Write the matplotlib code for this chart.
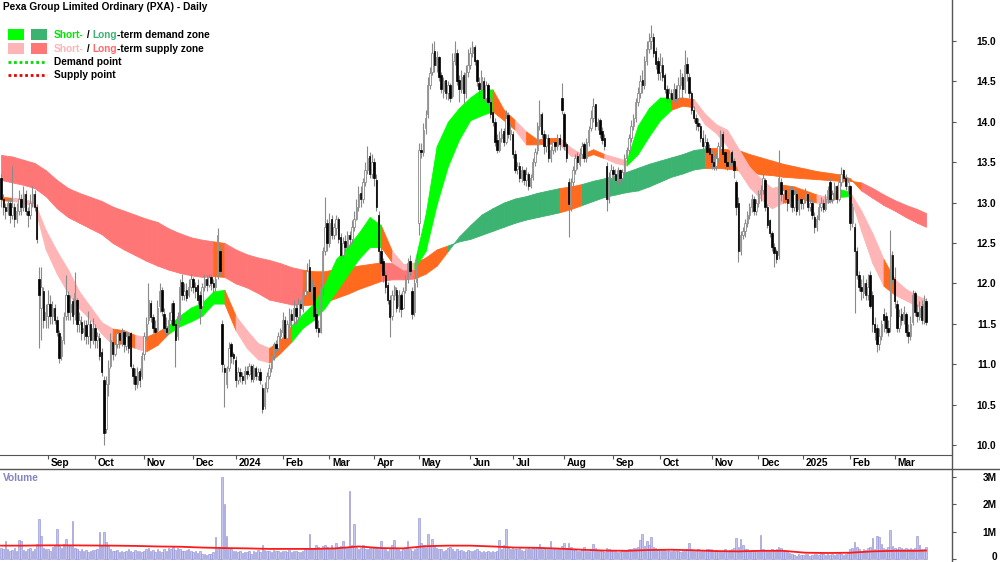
import numpy as np
import pandas as pd
import matplotlib
matplotlib.use('Agg')
import matplotlib.pyplot as plt
from matplotlib.lines import Line2D
from matplotlib.patches import Rectangle

plt.rcParams['font.family'] = ['Liberation Sans Narrow', 'Liberation Sans', 'DejaVu Sans']
plt.rcParams['font.weight'] = 'bold'
FS = 7.3

# ---- daily prices, one row per month (Aug 2023 .. Mar 2025) ----
opens = [
    13.30, 13.05, 12.95, 12.90, 13.00, 12.85, 12.95, 12.80, 12.90, 13.05, 12.95, 13.10, 12.90, 12.85, 13.00, 13.10, 12.95, 12.05, 11.70, 11.90, 11.55,
    11.60, 11.75, 11.60, 11.70, 11.55, 11.38, 11.10, 11.30, 11.60, 11.85, 11.65, 11.78, 11.62, 11.80, 11.50, 11.52, 11.40, 11.48, 11.35, 11.50, 11.30,
    11.45, 11.30, 11.32, 11.15, 10.80, 10.20, 10.75, 10.98, 11.28, 11.12, 11.25, 11.38, 11.28, 11.40, 11.22, 11.35, 11.38, 10.95, 10.85, 10.75, 10.92, 10.85,
    11.12, 11.35, 11.55, 11.76, 11.58, 11.45, 11.42, 11.72, 11.92, 11.62, 11.45, 11.40, 11.55, 11.76, 11.50, 11.35, 11.60, 12.02, 11.85, 11.92, 11.85, 11.95,
    12.05, 11.95, 11.98, 11.85, 11.72, 11.95, 12.05, 11.98, 12.08, 12.00, 11.95, 12.10, 12.40, 11.50, 10.95, 10.75, 10.95, 11.25, 11.12,
    11.05, 10.80, 10.90, 10.85, 10.80, 10.92, 10.88, 10.98, 10.82, 10.95, 10.85, 10.90, 10.70, 10.48, 10.70, 10.85, 10.95, 11.10, 11.25, 11.20, 11.35,
    11.40, 11.55, 11.32, 11.48, 11.62, 11.55, 11.70, 11.58, 11.75, 11.68, 11.85, 11.90, 12.20, 11.88, 11.95, 11.62, 11.45, 11.40, 11.95, 12.40, 12.75,
    12.50, 12.80, 12.60, 12.68, 12.80, 12.58, 12.35, 12.52, 12.45, 12.60, 12.55, 12.70, 12.80, 12.95, 13.12, 13.05, 13.25, 13.40, 13.58, 13.35,
    13.50, 13.28, 12.85, 12.40, 12.28, 12.10, 11.98, 11.80, 11.60, 11.85, 11.92, 11.72, 11.85, 11.70, 11.92, 12.05, 12.28, 11.90, 11.65, 12.02,
    12.75, 13.65, 13.62, 13.92, 14.10, 14.45, 14.62, 14.88, 14.70, 14.80, 14.58, 14.38, 14.52, 14.35, 14.45, 14.32, 14.75, 14.85, 14.52, 14.40, 14.58, 14.35, 14.62,
    14.70, 14.85, 14.92, 14.76, 14.48, 14.40, 14.50, 14.30, 14.45, 14.25, 14.12, 14.00, 13.78, 13.65, 13.80, 13.88, 13.75, 14.08, 13.85,
    13.85, 13.60, 13.42, 13.45, 13.30, 13.40, 13.28, 13.35, 13.20, 13.32, 13.50, 13.65, 13.95, 14.10, 13.85, 13.70, 13.80, 13.55, 13.65, 13.75, 13.70, 13.80, 14.30,
    14.10, 13.72, 13.25, 12.95, 13.25, 13.40, 13.58, 13.48, 13.60, 13.72, 13.55, 13.75, 13.92, 14.05, 14.22, 13.95, 14.02, 13.88, 13.80, 13.45, 13.05, 13.30,
    13.40, 13.35, 13.28, 13.40, 13.30, 13.38, 13.55, 13.65, 13.80, 13.95, 14.05, 14.25, 14.35, 14.52, 14.45, 14.75, 14.90, 15.00, 15.05, 14.88, 14.75,
    14.62, 14.70, 14.58, 14.40, 14.30, 14.35, 14.28, 14.40, 14.30, 14.45, 14.55, 14.40, 14.72, 14.55, 14.35, 14.15, 14.05, 13.98, 13.95, 13.80, 13.70, 13.75, 13.68,
    13.60, 13.50, 13.45, 13.55, 13.70, 13.85, 13.62, 13.50, 13.45, 13.62, 13.52, 13.25, 13.00, 12.40, 12.60, 12.65, 12.75, 12.85, 12.95, 13.05, 12.90,
    13.00, 13.10, 13.15, 13.28, 12.95, 12.78, 12.62, 12.45, 12.40, 12.35, 13.25, 13.10, 13.15, 13.05, 13.00, 13.15, 12.95, 13.10, 12.92, 13.05,
    13.00, 13.05, 13.10, 12.95, 13.00, 12.82, 12.70, 12.80, 12.95, 13.00, 12.92, 13.05, 13.25, 13.05, 13.10, 13.20, 13.05, 13.25, 13.40, 13.30, 13.20,
    13.20, 12.75, 12.70, 12.40, 12.10, 11.95, 11.88, 12.00, 11.85, 12.10, 11.85, 11.50, 11.45, 11.25, 11.35, 11.62, 11.60, 11.45, 11.60, 12.35,
    12.05, 11.75, 11.45, 11.62, 11.55, 11.62, 11.40, 11.35, 11.52, 11.88, 11.65, 11.58, 11.72, 11.55, 11.78,
]
highs = [
    13.35, 13.10, 13.00, 13.05, 13.05, 13.45, 13.00, 13.00, 13.15, 13.10, 13.20, 13.15, 12.95, 13.10, 13.20, 13.15, 12.98, 12.20, 12.20, 11.95, 11.75,
    11.92, 11.85, 11.78, 11.75, 11.60, 11.42, 11.35, 11.65, 12.10, 11.90, 11.85, 11.82, 12.14, 11.82, 11.65, 11.60, 11.55, 11.55, 11.66, 11.55, 11.57,
    11.50, 11.40, 11.38, 11.20, 10.85, 10.85, 11.05, 11.39, 11.35, 11.30, 11.43, 11.42, 11.45, 11.42, 11.40, 11.40, 11.40, 11.00, 10.95, 10.97, 10.95, 11.15,
    11.40, 11.58, 12.00, 11.80, 11.62, 11.55, 11.80, 12.00, 11.95, 11.70, 11.58, 11.65, 11.76, 11.80, 11.55, 11.65, 12.05, 12.12, 12.00, 12.00, 12.05, 12.12,
    12.08, 12.02, 12.05, 11.90, 12.00, 12.12, 12.10, 12.12, 12.12, 12.05, 12.10, 12.68, 12.45, 11.55, 11.00, 10.98, 11.28, 11.28, 11.15,
    11.10, 10.97, 10.95, 10.90, 10.98, 10.98, 11.02, 11.00, 11.00, 10.98, 10.95, 10.95, 10.75, 10.78, 10.90, 11.00, 11.15, 11.28, 11.30, 11.40, 11.45,
    11.65, 11.60, 11.55, 11.70, 11.68, 11.80, 11.75, 11.82, 11.80, 11.95, 12.00, 12.25, 12.30, 12.05, 11.98, 11.70, 11.55, 12.00, 12.45, 13.07, 12.80,
    12.87, 12.85, 12.75, 12.85, 12.82, 12.62, 12.58, 12.60, 12.65, 12.65, 12.78, 12.90, 13.05, 13.20, 13.20, 13.30, 13.50, 13.70, 13.62, 13.60,
    13.55, 13.35, 12.90, 12.45, 12.32, 12.15, 12.02, 11.85, 11.92, 11.98, 11.95, 11.92, 11.88, 11.95, 12.10, 12.32, 12.35, 11.95, 12.05, 12.38,
    13.74, 13.74, 13.98, 14.15, 14.55, 14.68, 14.97, 15.00, 14.88, 14.82, 14.62, 14.55, 14.52, 14.50, 14.48, 14.85, 15.00, 14.90, 14.58, 14.64, 14.62, 14.70, 14.90,
    14.92, 15.00, 14.95, 14.78, 14.55, 14.64, 14.55, 14.50, 14.48, 14.30, 14.18, 14.05, 13.85, 13.88, 13.92, 13.92, 14.15, 14.12, 13.98,
    13.88, 13.65, 13.50, 13.50, 13.45, 13.42, 13.44, 13.38, 13.35, 13.55, 13.68, 14.00, 14.27, 14.12, 13.90, 13.85, 13.85, 13.70, 13.80, 13.80, 13.85, 13.85, 14.48,
    14.12, 13.75, 13.30, 13.30, 13.45, 13.60, 13.62, 13.68, 13.75, 13.75, 13.80, 13.95, 14.15, 14.30, 14.22, 14.05, 14.05, 13.93, 13.85, 13.50, 13.38, 13.48,
    13.45, 13.42, 13.44, 13.42, 13.42, 13.60, 13.69, 13.85, 14.02, 14.10, 14.30, 14.43, 14.58, 14.64, 14.82, 15.00, 15.10, 15.20, 15.10, 14.92, 14.80,
    14.85, 14.80, 14.60, 14.45, 14.42, 14.40, 14.48, 14.45, 14.55, 14.65, 14.60, 14.89, 14.80, 14.60, 14.38, 14.20, 14.10, 14.05, 13.98, 13.90, 13.85, 13.80, 13.72,
    13.65, 13.58, 13.62, 13.75, 13.90, 13.88, 13.66, 13.58, 13.65, 13.65, 13.55, 13.28, 13.07, 12.65, 12.70, 12.80, 12.90, 13.00, 13.10, 13.08, 13.05,
    13.15, 13.22, 13.37, 13.30, 12.98, 12.80, 12.65, 12.50, 12.42, 13.65, 13.30, 13.20, 13.20, 13.10, 13.20, 13.20, 13.15, 13.15, 13.10, 13.12,
    13.10, 13.18, 13.12, 13.05, 13.03, 12.88, 12.85, 13.00, 13.07, 13.05, 13.10, 13.20, 13.30, 13.15, 13.25, 13.22, 13.30, 13.44, 13.42, 13.35, 13.30,
    13.22, 13.00, 12.75, 12.45, 12.15, 12.05, 12.10, 12.05, 12.12, 12.15, 11.90, 11.58, 11.50, 11.45, 11.55, 11.70, 11.65, 11.55, 12.66, 12.40,
    12.20, 11.80, 11.68, 11.70, 11.72, 11.65, 11.50, 11.60, 11.92, 11.90, 11.75, 11.78, 11.80, 11.85, 11.82,
]
lows = [
    12.95, 12.85, 12.80, 12.85, 12.75, 12.80, 12.70, 12.75, 12.85, 12.85, 12.90, 12.85, 12.70, 12.80, 12.95, 12.90, 12.50, 11.20, 11.30, 11.45, 11.45,
    11.45, 11.50, 11.50, 11.50, 11.35, 11.02, 11.05, 11.25, 11.55, 11.55, 11.55, 11.50, 11.55, 11.40, 11.40, 11.30, 11.30, 11.25, 11.25, 11.20, 11.25,
    11.20, 11.20, 11.05, 10.85, 10.00, 10.15, 10.60, 10.95, 11.05, 11.10, 11.20, 11.20, 11.22, 11.15, 11.18, 11.14, 10.95, 10.75, 10.68, 10.70, 10.72, 10.82,
    11.05, 11.30, 11.50, 11.52, 11.38, 11.34, 11.38, 11.65, 11.60, 11.40, 11.35, 11.38, 11.50, 11.45, 10.97, 11.30, 11.55, 11.80, 11.80, 11.78, 11.83, 11.90,
    11.88, 11.82, 11.75, 11.50, 11.70, 11.90, 11.90, 11.95, 11.92, 11.88, 11.90, 12.05, 12.10, 10.90, 10.47, 10.70, 10.92, 11.02, 11.00,
    10.72, 10.75, 10.78, 10.75, 10.75, 10.82, 10.85, 10.78, 10.78, 10.80, 10.80, 10.75, 10.40, 10.45, 10.65, 10.82, 10.90, 11.05, 11.15, 11.18, 11.30,
    11.35, 11.25, 11.28, 11.45, 11.45, 11.50, 11.50, 11.55, 11.60, 11.65, 11.80, 11.85, 11.82, 11.80, 11.55, 11.40, 11.34, 11.38, 11.85, 12.35, 12.40,
    12.45, 12.55, 12.55, 12.60, 12.50, 12.30, 12.32, 12.40, 12.42, 12.48, 12.50, 12.65, 12.78, 12.90, 12.95, 13.00, 13.20, 13.35, 13.30, 13.30,
    13.20, 12.90, 12.18, 12.15, 12.02, 11.88, 11.75, 11.34, 11.55, 11.80, 11.65, 11.65, 11.58, 11.68, 11.88, 12.00, 12.10, 11.56, 11.60, 11.95,
    12.60, 13.55, 13.58, 13.85, 14.05, 14.40, 14.58, 14.62, 14.62, 14.50, 14.35, 14.30, 14.28, 14.27, 14.25, 14.30, 14.70, 14.45, 14.25, 14.35, 14.23, 14.30, 14.55,
    14.65, 14.80, 14.70, 14.44, 14.30, 14.38, 14.27, 14.25, 14.22, 14.05, 13.95, 13.70, 13.61, 13.62, 13.75, 13.70, 13.72, 13.80, 13.78,
    13.55, 13.37, 13.35, 13.25, 13.25, 13.22, 13.20, 13.15, 13.18, 13.28, 13.45, 13.60, 13.90, 13.80, 13.60, 13.62, 13.50, 13.50, 13.60, 13.62, 13.65, 13.65, 14.10,
    13.65, 13.50, 12.57, 12.90, 13.20, 13.35, 13.42, 13.45, 13.55, 13.50, 13.50, 13.70, 13.88, 14.00, 13.90, 13.90, 13.80, 13.72, 13.65, 12.90, 13.00, 13.28,
    13.22, 13.20, 13.22, 13.25, 13.28, 13.35, 13.50, 13.60, 13.75, 13.90, 14.00, 14.20, 14.30, 14.35, 14.40, 14.70, 14.85, 14.90, 14.80, 14.65, 14.52,
    14.52, 14.50, 14.35, 14.25, 14.25, 14.22, 14.25, 14.25, 14.28, 14.40, 14.30, 14.35, 14.50, 14.30, 14.10, 14.00, 13.90, 13.88, 13.75, 13.65, 13.62, 13.55, 13.55,
    13.42, 13.40, 13.40, 13.50, 13.65, 13.55, 13.42, 13.40, 13.42, 13.45, 13.30, 12.85, 12.27, 12.35, 12.55, 12.58, 12.70, 12.80, 12.88, 12.85, 12.85,
    12.95, 13.02, 13.10, 12.90, 12.68, 12.58, 12.40, 12.20, 12.25, 12.30, 13.02, 13.00, 13.00, 12.90, 12.95, 12.88, 12.90, 12.85, 12.85, 12.92,
    12.92, 13.00, 12.90, 12.90, 12.80, 12.62, 12.65, 12.78, 12.90, 12.88, 12.90, 13.00, 13.00, 13.00, 13.05, 13.00, 13.02, 13.20, 13.25, 13.15, 13.10,
    12.66, 12.70, 11.63, 12.05, 11.90, 11.80, 11.82, 11.80, 11.80, 11.70, 11.40, 11.30, 11.15, 11.18, 11.30, 11.40, 11.38, 11.35, 11.40, 12.00,
    11.70, 11.40, 11.40, 11.48, 11.50, 11.35, 11.26, 11.30, 11.48, 11.60, 11.52, 11.55, 11.50, 11.50, 11.48,
]
closes = [
    13.05, 12.95, 12.90, 13.00, 12.85, 12.95, 12.80, 12.90, 13.05, 12.95, 13.10, 12.90, 12.85, 13.00, 13.10, 12.95, 12.55, 11.85, 11.95, 11.55, 11.65,
    11.75, 11.60, 11.70, 11.55, 11.40, 11.08, 11.30, 11.58, 11.85, 11.65, 11.75, 11.60, 11.88, 11.50, 11.55, 11.38, 11.45, 11.35, 11.50, 11.30, 11.45,
    11.30, 11.35, 11.10, 10.90, 10.15, 10.75, 10.95, 11.30, 11.12, 11.25, 11.38, 11.30, 11.40, 11.25, 11.35, 11.20, 10.98, 10.85, 10.75, 10.90, 10.80, 11.10,
    11.35, 11.50, 11.80, 11.58, 11.45, 11.40, 11.70, 11.90, 11.66, 11.45, 11.40, 11.55, 11.65, 11.48, 11.30, 11.60, 11.95, 11.85, 11.90, 11.82, 11.95, 12.05,
    11.95, 11.90, 11.80, 11.70, 11.95, 12.05, 11.98, 12.08, 12.00, 11.95, 12.05, 12.60, 12.15, 11.00, 10.90, 10.95, 11.20, 11.10, 11.08,
    10.80, 10.90, 10.85, 10.80, 10.92, 10.88, 10.98, 10.82, 10.95, 10.85, 10.90, 10.80, 10.45, 10.70, 10.85, 10.95, 11.10, 11.25, 11.20, 11.35, 11.42,
    11.55, 11.32, 11.50, 11.62, 11.55, 11.70, 11.60, 11.75, 11.70, 11.85, 11.90, 12.15, 11.90, 11.95, 11.60, 11.45, 11.40, 11.95, 12.40, 12.70, 12.50,
    12.75, 12.60, 12.70, 12.80, 12.55, 12.35, 12.50, 12.45, 12.60, 12.55, 12.70, 12.80, 12.95, 13.10, 13.05, 13.25, 13.40, 13.55, 13.35, 13.50,
    13.30, 12.95, 12.40, 12.25, 12.10, 11.95, 11.80, 11.58, 11.85, 11.95, 11.70, 11.85, 11.68, 11.90, 12.05, 12.25, 12.15, 11.62, 12.00, 12.30,
    13.65, 13.62, 13.90, 14.05, 14.45, 14.60, 14.85, 14.70, 14.80, 14.55, 14.40, 14.50, 14.35, 14.45, 14.30, 14.75, 14.85, 14.50, 14.40, 14.55, 14.35, 14.60, 14.70,
    14.85, 14.92, 14.75, 14.50, 14.40, 14.55, 14.30, 14.45, 14.25, 14.10, 14.00, 13.75, 13.65, 13.80, 13.85, 13.75, 14.05, 13.85, 13.90,
    13.60, 13.40, 13.45, 13.30, 13.40, 13.28, 13.35, 13.20, 13.30, 13.50, 13.62, 13.95, 14.10, 13.85, 13.70, 13.80, 13.55, 13.65, 13.75, 13.70, 13.80, 13.72, 14.15,
    13.70, 13.55, 12.98, 13.25, 13.40, 13.55, 13.50, 13.60, 13.70, 13.55, 13.75, 13.90, 14.05, 14.20, 13.95, 14.00, 13.85, 13.78, 13.70, 13.05, 13.30, 13.40,
    13.35, 13.28, 13.40, 13.30, 13.38, 13.55, 13.65, 13.80, 13.95, 14.05, 14.25, 14.35, 14.50, 14.45, 14.75, 14.90, 15.00, 15.05, 14.85, 14.72, 14.60,
    14.70, 14.55, 14.40, 14.30, 14.35, 14.28, 14.40, 14.30, 14.45, 14.55, 14.40, 14.70, 14.60, 14.35, 14.15, 14.05, 13.98, 13.95, 13.80, 13.70, 13.75, 13.62, 13.60,
    13.50, 13.45, 13.55, 13.70, 13.85, 13.60, 13.50, 13.45, 13.60, 13.50, 13.40, 12.95, 12.40, 12.60, 12.65, 12.75, 12.85, 12.95, 13.05, 12.90, 13.00,
    13.10, 13.15, 13.30, 12.95, 12.72, 12.62, 12.45, 12.38, 12.30, 13.30, 13.10, 13.15, 13.05, 13.00, 13.15, 12.95, 13.10, 12.90, 13.05, 13.00,
    13.05, 13.10, 12.95, 13.00, 12.85, 12.70, 12.80, 12.95, 13.00, 12.92, 13.05, 13.15, 13.05, 13.10, 13.20, 13.05, 13.25, 13.35, 13.30, 13.20, 13.25,
    12.75, 12.95, 12.40, 12.10, 11.95, 11.90, 12.00, 11.85, 11.95, 11.72, 11.50, 11.40, 11.25, 11.35, 11.50, 11.55, 11.45, 11.40, 12.35, 12.05,
    11.78, 11.45, 11.60, 11.55, 11.65, 11.40, 11.35, 11.50, 11.85, 11.65, 11.60, 11.70, 11.55, 11.75, 11.52,
]
# volume in thousands of shares
volumes = [
    420, 350, 650, 380, 300, 340, 420, 310, 700, 650, 330, 290, 360, 420, 300, 380, 560, 1480, 850, 420, 360,
    380, 300, 450, 520, 1100, 480, 420, 560, 750, 500, 460, 1400, 420, 380, 300, 350, 280, 320, 260, 300, 340,
    320, 380, 1000, 500, 1000, 620, 480, 350, 300, 280, 320, 260, 300, 240, 280, 350, 300, 260, 320, 280, 300, 260,
    300, 350, 420, 280, 320, 260, 380, 300, 250, 350, 300, 420, 380, 450, 330, 400, 360, 300, 280, 320, 350, 300,
    250, 280, 220, 300, 180, 200, 160, 180, 200, 260, 800, 380, 420, 3000, 2000, 850, 420, 350, 300,
    300, 250, 280, 220, 260, 240, 300, 200, 280, 250, 320, 260, 500, 340, 280, 300, 260, 320, 280, 300, 260,
    300, 280, 260, 320, 250, 280, 300, 260, 240, 300, 350, 380, 900, 420, 360, 500, 450, 400, 480, 520, 450,
    420, 500, 380, 600, 450, 480, 650, 400, 420, 2500, 500, 1300, 450, 380, 420, 500, 350, 380, 400, 450,
    400, 450, 380, 650, 420, 380, 300, 350, 500, 700, 420, 380, 300, 350, 420, 650, 380, 300, 350, 400,
    1500, 600, 500, 450, 900, 480, 750, 520, 420, 380, 350, 300, 320, 400, 450, 380, 300, 350, 280, 320, 300, 260, 320,
    300, 280, 320, 350, 300, 260, 280, 250, 300, 260, 280, 240, 300, 700, 350, 500, 1100, 420, 380,
    420, 380, 350, 400, 320, 300, 380, 420, 350, 400, 380, 450, 550, 420, 380, 400, 350, 650, 420, 380, 350, 400, 480,
    600, 400, 580, 450, 380, 350, 300, 280, 320, 450, 300, 280, 350, 550, 400, 320, 280, 300, 260, 420, 350, 300,
    280, 300, 250, 260, 300, 280, 320, 350, 380, 400, 420, 450, 700, 920, 480, 650, 500, 800, 450, 400, 380,
    380, 350, 320, 300, 280, 300, 320, 280, 300, 260, 300, 320, 350, 580, 380, 320, 300, 350, 280, 300, 320, 350, 380,
    350, 300, 320, 280, 300, 260, 350, 300, 320, 380, 400, 780, 450, 720, 500, 380, 350, 300, 320, 280, 300,
    300, 880, 350, 300, 320, 280, 350, 300, 380, 450, 420, 300, 280, 250, 220, 200, 150, 120, 180, 150,
    150, 200, 180, 120, 160, 200, 180, 150, 220, 180, 140, 200, 160, 180, 150, 200, 220, 180, 160, 200, 220,
    350, 420, 620, 450, 380, 300, 350, 320, 400, 450, 770, 380, 850, 820, 550, 420, 380, 450, 1050, 480,
    420, 380, 450, 400, 350, 420, 380, 400, 350, 420, 850, 500, 380, 350, 450,
]

# ---- zone edges read every 5 bars (last point = final bar) ----
band_idx = list(range(0, 411, 5)) + [414]
st_hi = [13.07, 13.06, 13.05, 13.00, 12.66, 12.40, 12.17, 11.90, 11.71, 11.52, 11.44, 11.42, 11.36, 11.34, 11.40, 11.48, 11.60, 11.70, 11.76, 11.90,
         11.92, 11.60, 11.42, 11.26, 11.20, 11.30, 11.48, 11.62, 11.75, 12.00, 12.30, 12.45, 12.62, 12.82, 12.72, 12.40, 12.24, 12.25, 12.85, 13.70,
         14.00, 14.17, 14.30, 14.40, 14.40, 14.15, 14.02, 13.88, 13.78, 13.80, 13.80, 13.68, 13.60, 13.66, 13.60, 13.56, 13.52, 13.95, 14.17, 14.30,
         14.30, 14.30, 14.28, 14.10, 13.97, 13.90, 13.67, 13.44, 13.30, 13.18, 13.22, 13.20, 13.15, 13.10, 13.07, 13.17, 13.13, 12.90, 12.62, 12.30,
         12.05, 11.93, 11.85, 11.80]
st_lo = [13.03, 13.02, 13.00, 12.95, 12.42, 12.12, 11.88, 11.69, 11.55, 11.38, 11.24, 11.26, 11.20, 11.16, 11.24, 11.38, 11.47, 11.53, 11.60, 11.75,
         11.75, 11.42, 11.20, 11.06, 11.02, 11.14, 11.28, 11.45, 11.55, 11.70, 11.90, 12.10, 12.30, 12.45, 12.45, 12.26, 12.17, 12.18, 12.40, 12.98,
         13.45, 13.78, 14.02, 14.08, 14.13, 14.02, 13.90, 13.72, 13.72, 13.73, 13.72, 13.58, 13.55, 13.60, 13.55, 13.49, 13.46, 13.60, 13.82, 14.02,
         14.15, 14.20, 14.18, 13.97, 13.86, 13.70, 13.40, 13.19, 13.05, 12.93, 13.00, 13.03, 13.03, 13.00, 13.00, 13.07, 13.08, 12.65, 12.25, 11.97,
         11.86, 11.79, 11.72, 11.70]
lt_fast = [13.28, 13.25, 13.22, 13.18, 13.08, 12.93, 12.82, 12.75, 12.68, 12.61, 12.50, 12.42, 12.35, 12.28, 12.22, 12.17, 12.13, 12.10, 12.08, 12.09,
           12.08, 12.00, 11.95, 11.88, 11.80, 11.77, 11.74, 11.73, 11.74, 11.77, 11.82, 11.87, 11.93, 11.98, 12.03, 12.05, 12.05, 12.06, 12.12, 12.22,
           12.40, 12.58, 12.72, 12.85, 12.93, 13.00, 13.05, 13.08, 13.12, 13.15, 13.18, 13.20, 13.23, 13.27, 13.30, 13.34, 13.38, 13.43, 13.48, 13.52,
           13.56, 13.60, 13.65, 13.67, 13.67, 13.66, 13.65, 13.60, 13.56, 13.52, 13.48, 13.45, 13.42, 13.39, 13.37, 13.35, 13.30, 13.15, 13.06, 12.97,
           12.90, 12.82, 12.75, 12.70]
lt_slow = [13.59, 13.57, 13.53, 13.49, 13.40, 13.28, 13.18, 13.12, 13.07, 13.02, 12.95, 12.90, 12.85, 12.80, 12.76, 12.68, 12.62, 12.57, 12.54, 12.52,
           12.50, 12.42, 12.36, 12.32, 12.29, 12.25, 12.20, 12.17, 12.15, 12.15, 12.18, 12.20, 12.22, 12.24, 12.26, 12.25, 12.23, 12.25, 12.32, 12.42,
           12.47, 12.52, 12.55, 12.60, 12.65, 12.70, 12.75, 12.79, 12.82, 12.85, 12.88, 12.92, 12.97, 13.02, 13.07, 13.10, 13.13, 13.15, 13.20, 13.26,
           13.32, 13.36, 13.41, 13.43, 13.43, 13.42, 13.40, 13.38, 13.35, 13.34, 13.32, 13.31, 13.30, 13.29, 13.28, 13.27, 13.27, 13.25, 13.18, 13.10,
           13.03, 12.97, 12.92, 12.87]
# zone state per interval: g = demand, p/r = supply, o = mixed
st_state = ("opppppppppoopooggggg" "opppoogggggggg" "oppggggggg" "oopoooppoo"
            "ppggggoo" "ppppppppooopog" "pppoppp")
lt_state = "r" * 19 + "o" + "r" * 7 + "o" * 7 + "r" * 3 + "o" * 3 + "g" * 10 + "o" * 2 + "g" * 11 + "o" * 14 + "r" * 6

# volume average, read every 10 bars
vol_ma_idx = list(range(0, 411, 10)) + [414]
vol_ma = [490, 490, 500, 500, 495, 490, 480, 460, 450, 420, 400, 390, 370, 370, 370, 390, 460, 400, 390, 470,
          490, 490, 460, 420, 410, 380, 340, 310, 300, 330, 340, 320, 290, 280, 300, 300, 230, 220, 230, 280,
          300, 300, 310]

holidays = ['2023-12-25', '2023-12-26', '2024-01-01', '2024-01-26', '2024-03-29', '2024-04-01',
            '2024-04-25', '2024-06-10', '2024-12-25', '2024-12-26', '2025-01-01', '2025-01-27']

W, H = 1000, 562
def fx(px):
    return px / W
def fy(py):
    return 1 - py / H

n = min(len(opens), len(highs), len(lows), len(closes), len(volumes))
dates = pd.bdate_range('2023-08-03', '2025-03-31', freq='C', holidays=holidays)[:n]
o, h, l, c = (np.array(a[:n]) for a in (opens, highs, lows, closes))
v = np.array(volumes[:n]) / 1000.0
x = np.arange(n)

fig = plt.figure(figsize=(10, 5.62), dpi=100)
ax = fig.add_axes([0, fy(455), fx(952), 455 / H])
vax = fig.add_axes([0, 0, fx(952), 93 / H])
xlim = (-0.45, -0.45 + 952 / 2.2343)

orange = '#FF6A1F'
st_cols = {'g': '#00FF00', 'p': '#FFB5B5', 'o': orange}
lt_cols = {'g': '#3CB371', 'r': '#FF7676', 'o': orange}

bx = np.array(band_idx)
for k in range(len(bx) - 1):
    s = slice(k, k + 2)
    col = lt_cols[lt_state[k]]
    ax.fill_between(bx[s], np.array(lt_fast)[s], np.array(lt_slow)[s], color=col, lw=0.6, edgecolor=col, zorder=1)
for k in range(len(bx) - 1):
    s = slice(k, k + 2)
    col = st_cols[st_state[k]]
    ax.fill_between(bx[s], np.array(st_lo)[s], np.array(st_hi)[s], color=col, lw=0.6, edgecolor=col, zorder=2)

# candles
body_top = np.maximum(o, c)
body_bot = np.minimum(o, c)
ax.vlines(x, np.minimum(l, body_bot), np.maximum(h, body_top), color='#8A8A8A', lw=0.8, zorder=3)
up = c >= o
bh = np.maximum(body_top - body_bot, 0.02)
ax.bar(x[up], bh[up], bottom=body_bot[up], width=0.65, color='white', edgecolor='#8A8A8A', lw=0.6, zorder=4)
ax.bar(x[~up], bh[~up], bottom=body_bot[~up], width=0.65, color='black', edgecolor='black', lw=0.5, zorder=4)

ax.set_xlim(*xlim)
ax.set_ylim(9.876, 15.507)
for sp in ('left', 'top', 'right'):
    ax.spines[sp].set_visible(False)
ax.spines['bottom'].set_color('#555555')
ax.yaxis.tick_right()
ax.set_yticks(np.arange(10.0, 15.01, 0.5))
ax.set_yticklabels([f'{t:.1f}' for t in np.arange(10.0, 15.01, 0.5)], fontsize=FS)
ax.tick_params(axis='y', length=3, color='#555555', pad=29)
for lbl in ax.get_yticklabels():
    lbl.set_ha('right')

month_pos = [i for i in range(1, n) if dates[i].month != dates[i - 1].month]
month_lab = [str(dates[i].year) if dates[i].month == 1 else dates[i].strftime('%b') for i in month_pos]
ax.set_xticks(month_pos)
ax.set_xticklabels([])
ax.tick_params(axis='x', direction='out', length=3, color='#555555')
for p, lab in zip(month_pos, month_lab):
    ax.text(p + 1.2, -8 / 455, lab, transform=ax.get_xaxis_transform(), ha='left', va='center',
            fontsize=FS, fontweight='bold', clip_on=False)

# volume panel
vax.bar(x, v, width=0.7, color='#C4C4EE', edgecolor='#8C8CD2', lw=0.4, zorder=2)
vax.plot(vol_ma_idx, np.array(vol_ma) / 1000.0, color='#FF1A1A', lw=1.3, zorder=3)
vax.set_xlim(*xlim)
vax.set_ylim(-0.11, 3.3)
for sp in ('left', 'top', 'right', 'bottom'):
    vax.spines[sp].set_visible(False)
vax.set_xticks([])
vax.yaxis.tick_right()
vax.set_yticks([0, 1, 2, 3])
vax.set_yticklabels(['', '1M', '2M', '3M'], fontsize=FS)
vax.tick_params(axis='y', length=3, color='#555555', pad=29)
for lbl in vax.get_yticklabels():
    lbl.set_ha('right')
fig.text(fx(997), fy(556.5), '0', ha='right', va='center', fontsize=FS, fontweight='bold')

# frame lines
fig.add_artist(Line2D([fx(952), fx(952)], [0, 1], color='#555555', lw=1))
fig.add_artist(Line2D([0, 1], [fy(469), fy(469)], color='#555555', lw=1))

# title, legend, labels
fig.text(fx(3), fy(7.5), 'Pexa Group Limited Ordinary (PXA) - Daily', ha='left', va='center', fontsize=FS, fontweight='bold')
fig.text(fx(3), fy(478), 'Volume', ha='left', va='center', fontsize=FS, fontweight='bold', color='#8383C4')

for px0, py0, col in [(8, 29, '#00FF00'), (31, 29, '#3CB371'), (8, 43, '#FFB5B5'), (31, 43, '#FF7676')]:
    fig.add_artist(Rectangle((fx(px0), fy(py0 + 11)), 16 / W, 11 / H, transform=fig.transFigure, color=col, lw=0))
fig.add_artist(Line2D([fx(8), fx(47)], [fy(62), fy(62)], color='#00DD00', lw=2, linestyle=(0, (1, 1))))
fig.add_artist(Line2D([fx(8), fx(47)], [fy(75), fy(75)], color='#EE0000', lw=2, linestyle=(0, (1, 1))))

rows = [
    (34.5, [('Short-', '#00E600'), (' / ', 'black'), ('Long', '#3CB371'), ('-term demand zone', 'black')]),
    (48.5, [('Short-', '#FFB5B5'), (' / ', 'black'), ('Long', '#FF6A6A'), ('-term supply zone', 'black')]),
    (62, [('Demand point', 'black')]),
    (75, [('Supply point', 'black')]),
]
for py, parts in rows:
    prev = fig.text(fx(54), fy(py), parts[0][0], color=parts[0][1], ha='left', va='center', fontsize=FS, fontweight='bold')
    for txt, col in parts[1:]:
        prev = ax.annotate(txt, xy=(1, 0.5), xycoords=prev, ha='left', va='center', color=col,
                           fontsize=FS, fontweight='bold')

fig.savefig('out.png', dpi=100)
